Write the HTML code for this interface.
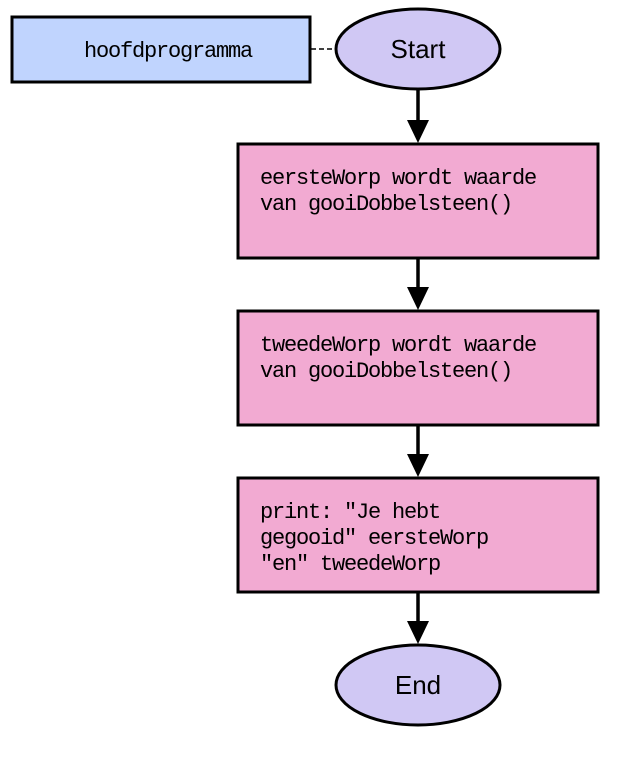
<!DOCTYPE html>
<html><head><meta charset="utf-8"><style>
html,body{margin:0;padding:0;background:#fff;width:635px;height:766px;overflow:hidden}
svg{display:block}
.m{font-family:"Liberation Mono",monospace;font-size:22px;letter-spacing:-1.2px;fill:#000}
.s{font-family:"Liberation Sans",sans-serif;font-size:26px;fill:#000}
</style></head><body>
<svg width="635" height="766" viewBox="0 0 635 766">
<rect x="12" y="17" width="298" height="65" fill="#c0d4fe" stroke="#000" stroke-width="3"/>
<text class="m" x="84" y="57">hoofdprogramma</text>
<line x1="311" y1="49" x2="335" y2="49" stroke="#000" stroke-width="1.5" stroke-dasharray="5,3"/>
<ellipse cx="418" cy="49" rx="82" ry="40" fill="#d0c8f4" stroke="#000" stroke-width="3"/>
<text class="s" x="418" y="58" text-anchor="middle">Start</text>

<g stroke="#000" stroke-width="3.5">
<line x1="418" y1="90" x2="418" y2="122"/>
<line x1="418" y1="259" x2="418" y2="289"/>
<line x1="418" y1="426" x2="418" y2="456"/>
<line x1="418" y1="593" x2="418" y2="623"/>
</g>
<g fill="#000">
<polygon points="407,120 429,120 418,143"/>
<polygon points="407,287 429,287 418,310"/>
<polygon points="407,454 429,454 418,477"/>
<polygon points="407,621 429,621 418,644"/>
</g>

<rect x="238" y="144" width="360" height="114" fill="#f2aad2" stroke="#000" stroke-width="3"/>
<text class="m" x="260" y="184">eersteWorp wordt waarde</text>
<text class="m" x="260" y="210">van gooiDobbelsteen()</text>

<rect x="238" y="311" width="360" height="114" fill="#f2aad2" stroke="#000" stroke-width="3"/>
<text class="m" x="260" y="351">tweedeWorp wordt waarde</text>
<text class="m" x="260" y="377">van gooiDobbelsteen()</text>

<rect x="238" y="478" width="360" height="114" fill="#f2aad2" stroke="#000" stroke-width="3"/>
<text class="m" x="260" y="518">print: "Je hebt</text>
<text class="m" x="260" y="544">gegooid" eersteWorp</text>
<text class="m" x="260" y="570">"en" tweedeWorp</text>

<ellipse cx="418" cy="685" rx="82" ry="40" fill="#d0c8f4" stroke="#000" stroke-width="3"/>
<text class="s" x="418" y="694" text-anchor="middle">End</text>
</svg>
</body></html>
